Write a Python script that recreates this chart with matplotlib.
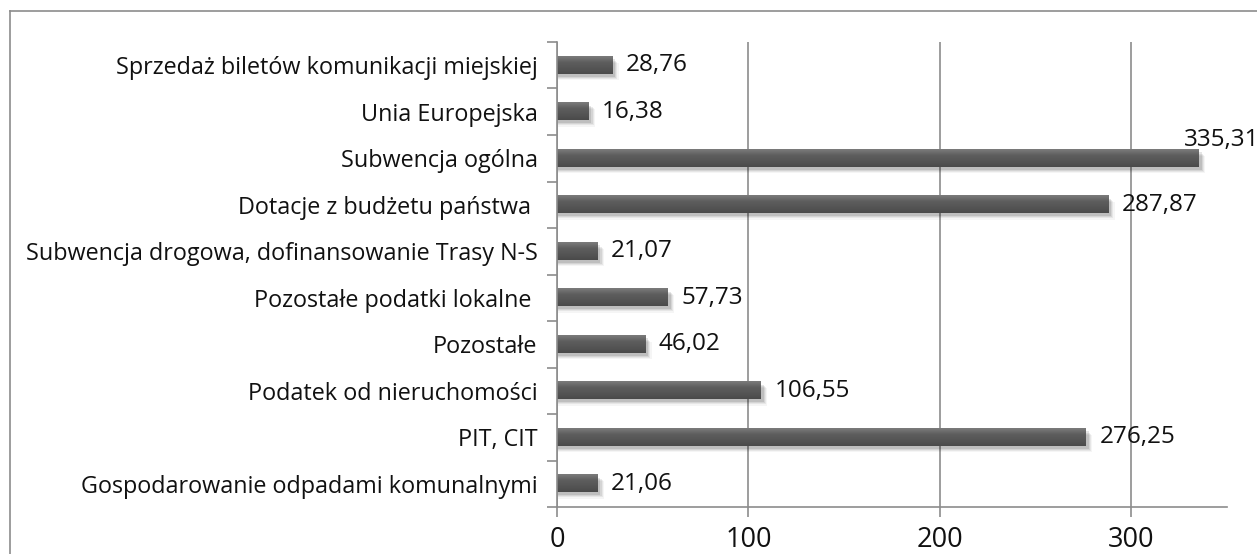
import numpy as np
import matplotlib.pyplot as plt
from matplotlib.lines import Line2D
from matplotlib.colors import LinearSegmentedColormap

plt.rcParams['font.family'] = ['Open Sans', 'DejaVu Sans']

# data, top to bottom as in the chart
categories = ['Sprzedaż biletów komunikacji miejskiej', 'Unia Europejska',
              'Subwencja ogólna', 'Dotacje z budżetu państwa ',
              'Subwencja drogowa, dofinansowanie Trasy N-S',
              'Pozostałe podatki lokalne ', 'Pozostałe',
              'Podatek od nieruchomości', 'PIT, CIT',
              'Gospodarowanie odpadami komunalnymi']
values = [28.76, 16.38, 335.31, 287.87, 21.07, 57.73, 46.02, 106.55, 276.25, 21.06]
xticks = [0, 100, 200, 300]

fig = plt.figure(figsize=(12.57, 5.54), dpi=100)
ax = fig.add_axes([0.4431, 0.0848, 0.5330, 0.8394])

# outer chart frame (clipped at right and bottom in the original)
fig.add_artist(Line2D([10/1257, 10/1257], [0, 1 - 11/554], transform=fig.transFigure,
                      color='#8c8c8c', lw=1.2))
fig.add_artist(Line2D([10/1257, 1], [1 - 11/554, 1 - 11/554], transform=fig.transFigure,
                      color='#8c8c8c', lw=1.2))

ypos = np.arange(len(categories))
h = 0.37
grad = LinearSegmentedColormap.from_list('bar', ['#7c7c7c', '#5e5e5e', '#555555', '#4a4a4a'])
gimg = np.linspace(0, 1, 50).reshape(-1, 1)

for y, v in zip(ypos, values):
    # soft shadow under the bar
    for k, a in enumerate([0.10, 0.08, 0.06, 0.04]):
        off = 0.03 + k * 0.025
        ax.barh(y + off + 0.03, v + 1.2 + k * 0.6, height=h, left=0.4,
                color='#000000', alpha=a, lw=0, zorder=2)
    ax.imshow(gimg, cmap=grad, aspect='auto', extent=[0, v, y + h/2, y - h/2],
              zorder=3, interpolation='bicubic')
    lbl = f'{v:.2f}'.replace('.', ',')
    if v > 330:
        ax.annotate(lbl, (v, y), xytext=(-11, 13), textcoords='offset points',
                    va='center', ha='left', fontsize=17.5, color='#111111')
    else:
        ax.annotate(lbl, (v, y), xytext=(10, 0), textcoords='offset points',
                    va='center', ha='left', fontsize=17.5, color='#111111')

ax.set_xlim(0, 350)
ax.set_ylim(len(categories) - 0.5, -0.5)

ax.set_yticks(ypos)
ax.set_yticklabels(categories, fontsize=16.8, color='#111111')
ax.set_yticks(np.arange(-0.5, len(categories)), minor=True)
ax.tick_params(axis='y', which='major', length=0, pad=14)
ax.tick_params(axis='y', which='minor', length=7, color='#8c8c8c', width=1.2)

ax.set_xticks(xticks)
ax.set_xticklabels([str(t) for t in xticks], fontsize=19.5, color='#111111')
ax.tick_params(axis='x', length=7, color='#8c8c8c', width=1.2, pad=7)

ax.grid(axis='x', color='#8c8c8c', lw=1.2, zorder=1)
ax.set_axisbelow(True)
for s in ['top', 'right']:
    ax.spines[s].set_visible(False)
for s in ['left', 'bottom']:
    ax.spines[s].set_color('#8c8c8c')
    ax.spines[s].set_linewidth(1.2)
    ax.spines[s].set_zorder(4)

fig.savefig('out.png', dpi=100)
